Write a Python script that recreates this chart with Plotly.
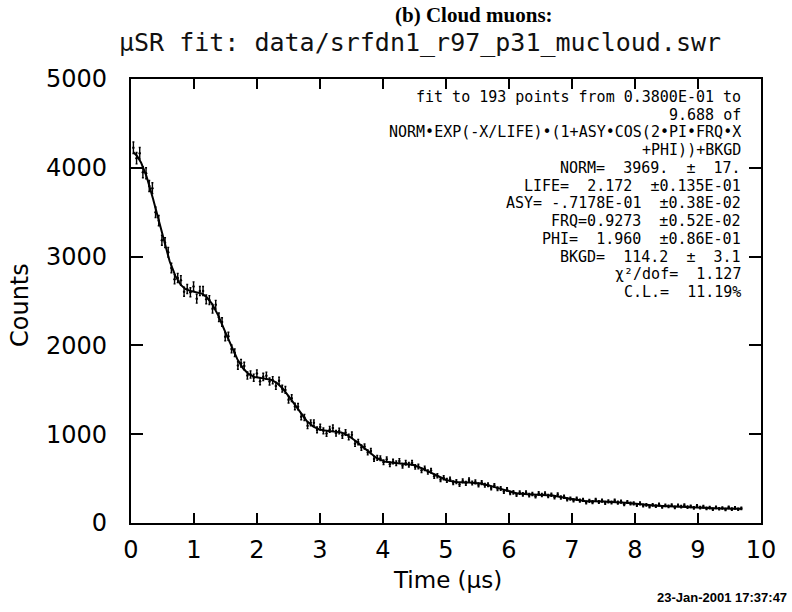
import numpy as np
import plotly.graph_objects as go

# ---- fit result: NORM*EXP(-X/LIFE)*(1+ASY*COS(2*PI*FRQ*X+PHI))+BKGD ----
NORM, NORM_ERR = 3969.0, 17.0
LIFE, LIFE_ERR = 2.172, 0.135e-01
ASY, ASY_ERR = -0.7178e-01, 0.38e-02
FRQ, FRQ_ERR = 0.9273, 0.52e-02
PHI, PHI_ERR = 1.960, 0.86e-01
BKGD, BKGD_ERR = 114.2, 3.1
CHI2_DOF = 1.127
CL_PCT = 11.19

FIT_START, FIT_END, N_POINTS = 0.038, 9.688, 193

# ---- histogram counts per time bin (cloud muons) ----
counts = [
    4226, 4108, 4164, 3950, 3938, 3795, 3771, 3500, 3405, 3184,
    3157, 3049, 2872, 2745, 2759, 2733, 2605, 2635, 2599, 2664,
    2526, 2613, 2612, 2519, 2510, 2413, 2458, 2316, 2263, 2098,
    2102, 1960, 1917, 1774, 1800, 1768, 1661, 1672, 1636, 1683,
    1597, 1646, 1658, 1594, 1608, 1544, 1603, 1513, 1498, 1389,
    1406, 1312, 1310, 1197, 1189, 1096, 1128, 1128, 1048, 1080,
    1038, 1008, 1054, 1071, 1010, 1036, 986, 1019, 968, 994,
    893, 911, 849, 861, 795, 811, 722, 733, 729, 684,
    717, 661, 692, 672, 699, 645, 679, 656, 679, 632,
    637, 593, 616, 574, 590, 526, 533, 488, 509, 479,
    494, 453, 467, 433, 474, 447, 484, 450, 463, 429,
    455, 425, 430, 395, 422, 386, 388, 354, 379, 338,
    346, 318, 343, 322, 343, 314, 327, 302, 333, 315,
    332, 303, 318, 289, 321, 287, 295, 266, 274, 256,
    273, 251, 260, 230, 250, 235, 261, 236, 252, 227,
    243, 230, 253, 229, 241, 211, 237, 220, 221, 202,
    221, 197, 204, 184, 204, 190, 208, 181, 198, 188,
    201, 176, 198, 184, 201, 179, 188, 171, 193, 174,
    183, 164, 174, 155, 176, 161, 169, 152, 177, 156,
    170, 155, 164,
]

X_TICKS = list(range(0, 11))
Y_TICKS = [0, 1000, 2000, 3000, 4000, 5000]

TITLE = "(b) Cloud muons:"
SUBTITLE = "\u03bcSR fit: data/srfdn1_r97_p31_mucloud.swr"
X_LABEL = "Time (\u03bcs)"
Y_LABEL = "Counts"
STAMP = "23-Jan-2001 17:37:47"

# ---- derived arrays ----
t = np.linspace(FIT_START, FIT_END, N_POINTS)
y = np.array(counts, dtype=float)
err = np.sqrt(y)

t_fit = np.linspace(FIT_START, FIT_END, 1200)
y_fit = NORM * np.exp(-t_fit / LIFE) * (1 + ASY * np.cos(2 * np.pi * FRQ * t_fit + PHI)) + BKGD

# ---- page geometry (pixels) ----
W, H = 792, 612
L, R, T, B = 131, 31, 79, 89
PW, PH = W - L - R, H - T - B


def px(xp):
    return (xp - L) / PW


def py(yp):
    return (H - B - yp) / PH


fig = go.Figure()
fig.add_trace(go.Scatter(
    x=t, y=y, mode="markers",
    marker=dict(color="black", size=2.5),
    error_y=dict(type="data", array=err, color="black", thickness=1.4, width=1),
    showlegend=False, hoverinfo="skip",
))
fig.add_trace(go.Scatter(
    x=t_fit, y=y_fit, mode="lines",
    line=dict(color="black", width=2),
    showlegend=False, hoverinfo="skip",
))

tick_font = dict(family="DejaVu Sans", size=24, color="black")
axis_common = dict(
    showline=True, linecolor="black", linewidth=2.2, mirror="ticks",
    ticks="inside", tickcolor="black", tickwidth=1.6,
    showgrid=False, zeroline=False, tickfont=tick_font,
)
fig.update_xaxes(range=[0, 10], tickvals=X_TICKS, ticklen=10,
                 ticklabelstandoff=4, **axis_common)
fig.update_yaxes(range=[0, 5000], tickvals=Y_TICKS, ticklen=12,
                 ticklabelstandoff=17, **axis_common)

ann = []
ann.append(dict(text="<b>" + TITLE + "</b>", x=px(474), y=py(15),
                font=dict(family="Liberation Serif", size=21, color="black")))
ann.append(dict(text=SUBTITLE, x=px(420), y=py(42),
                font=dict(family="DejaVu Sans Mono", size=25, color="#111")))
ann.append(dict(text=X_LABEL, x=px(447), y=py(580),
                font=dict(family="DejaVu Sans", size=23, color="black")))
ann.append(dict(text=Y_LABEL, x=px(20), y=py(305), textangle=-90,
                font=dict(family="DejaVu Sans", size=24, color="black")))
ann.append(dict(text="<b>" + STAMP + "</b>", x=px(789), y=py(597), xanchor="right",
                font=dict(family="Liberation Sans", size=13, color="black")))

for a in ann:
    a.setdefault("xanchor", "center")
    a.update(xref="paper", yref="paper", yanchor="middle", showarrow=False)

# fit summary block, right-aligned inside the frame (one line per 200 counts)
box_lines = [
    f"fit to {N_POINTS} points from 0.3800E-01 to",
    f"{FIT_END} of",
    "NORM\u2022EXP(-X/LIFE)\u2022(1+ASY\u2022COS(2\u2022PI\u2022FRQ\u2022X",
    "+PHI))+BKGD",
    f"NORM=  {NORM:.0f}.  \u00b1  {NORM_ERR:.0f}.",
    f"LIFE=  {LIFE:.3f}  \u00b10.135E-01",
    "ASY= -.7178E-01  \u00b10.38E-02",
    f"FRQ={FRQ:.4f}  \u00b10.52E-02",
    f"PHI=  {PHI:.3f}  \u00b10.86E-01",
    f"BKGD=  {BKGD:.1f}  \u00b1  {BKGD_ERR:.1f}",
    f"\u03c7\u00b2/dof=  {CHI2_DOF:.3f}",
    f"C.L.=  {CL_PCT:.2f}%",
]
for k, line in enumerate(box_lines):
    ann.append(dict(text=line, x=9.71, y=4800 - 200 * k, xref="x", yref="y",
                    xanchor="right", yanchor="middle", showarrow=False,
                    font=dict(family="DejaVu Sans Mono", size=15, color="black")))

fig.update_layout(
    width=W, height=H,
    margin=dict(l=L, r=R, t=T, b=B),
    paper_bgcolor="white", plot_bgcolor="white",
    annotations=ann,
)

fig.write_html("out.html")
